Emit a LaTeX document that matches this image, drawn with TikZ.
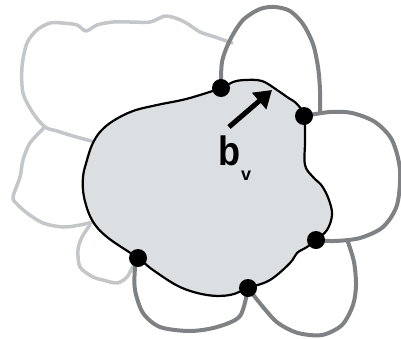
\documentclass[tikz,border=0pt]{standalone}
\usepackage{fontspec}
\setmainfont{Liberation Sans}
\usetikzlibrary{arrows.meta}
\definecolor{cellfill}{HTML}{DCDFE2}
\definecolor{petal}{HTML}{7F8285}
\definecolor{faint}{HTML}{C3C7CA}

\begin{document}
\begin{tikzpicture}[x=1pt,y=-1pt,
  faintline/.style={faint,line width=3.5pt,line join=round,line cap=round},
  petalline/.style={petal,line width=4pt,line cap=round},
  contact/.style={circle,fill=black,inner sep=0pt,minimum size=18pt}]
  \useasboundingbox (0,0) rectangle (401,338);

  % Contact points on the cell boundary
  \coordinate (pA) at (221,88);
  \coordinate (pB) at (304,116);
  \coordinate (pC) at (316,240);
  \coordinate (pD) at (248,288);
  \coordinate (pE) at (138,258);
  % where petals meet each other
  \coordinate (tj) at (320,112);
  \coordinate (rj) at (348,242);

  % Old neighbours on the left (faint)
  \draw[faintline] plot[smooth,tension=0.5] coordinates {(232,43) (215,37) (200,32) (188,24)
    (178,19) (165,16) (150,22) (130,22) (113,22) (97,25) (86,31) (77,25) (62,23) (50,23)
    (37,30) (27,43) (22,67) (23,93) (33,113) (45,127) (57,131) (73,136) (95,142)};
  \draw[faintline] plot[smooth,tension=0.5] coordinates {(45,127) (30,143) (23,160) (20,177)
    (13,197) (17,204) (27,213) (43,223) (63,227) (80,225) (93,222)};
  \draw[faintline] plot[smooth,tension=0.5] coordinates {(90,225) (82,237) (78,250) (80,267)
    (93,277) (103,280) (117,283) (127,277) (134,264)};

  % Neighbouring cells
  \draw[petalline] plot[smooth] coordinates {(pA) (222,62) (230,40) (243,20) (260,9) (275,7)
    (290,11) (303,24) (313,44) (318,67) (320,90) (tj)};
  \draw[petalline] plot[smooth] coordinates {(pB) (330,112) (352,113) (375,122) (392,140)
    (400,170) (397,205) (383,227) (360,238) (335,241) (pC)};
  \draw[petalline] plot[smooth] coordinates {(rj) (354,262) (356,285) (353,305) (342,325)
    (322,335) (298,333) (278,323) (263,307) (pD)};
  \draw[petalline] plot[smooth] coordinates {(pE) (135,268) (135,290) (143,313) (160,327)
    (190,331) (217,327) (240,316) (pD)};

  % The cell itself
  \filldraw[fill=cellfill,draw=black,line width=2.2pt] plot[smooth cycle,tension=0.6] coordinates {
    (pA) (200,95) (182,100) (157,105) (133,111) (113,121) (100,132) (92,145) (87,160)
    (83,177) (84,197) (92,220) (107,237) (pE) (153,270) (180,287) (207,295) (230,295) (pD)
    (270,280) (290,263) (297,253) (307,247) (pC) (327,230) (332,215) (329,200) (322,186)
    (313,177) (305,165) (305,140) (pB) (297,104) (287,97) (277,90) (262,81) (245,80) (233,82)};

  % Contacts
  \foreach \p in {pA,pB,pC,pD,pE}
    \node[contact] (dot-\p) at (\p) {};

  % Boundary vector
  \coordinate (tail) at (229,127);
  \coordinate (tip) at (272,90);
  \draw[line width=5pt,-{Triangle[length=17pt,width=21pt]}] (tail) -- (tip);
  \node[anchor=base west,inner sep=0pt] (lbl) at (218,165)
    {\bfseries\scalebox{0.88}[1]{\fontsize{41}{41}\selectfont b}\hspace{1pt}\raisebox{-15pt}{\fontsize{18}{18}\selectfont v}};
\end{tikzpicture}
\end{document}
